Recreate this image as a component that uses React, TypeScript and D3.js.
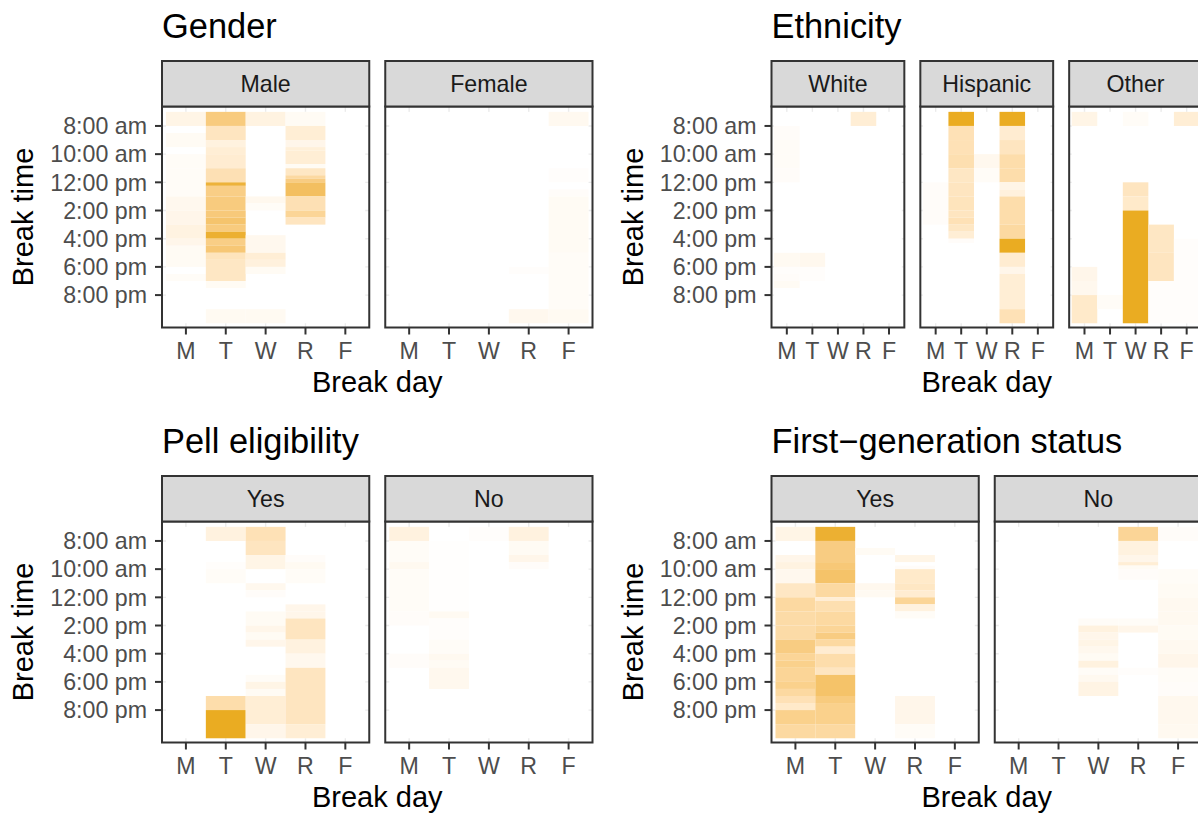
import React from 'react';
import * as d3 from 'd3';

type Cell = [string, number, number, number]; // day, start hour, end hour, share

const width = 1198;
const height = 813;
const font = 'Liberation Sans, Arial, Helvetica, sans-serif';
const dark = '#EAAC22';

const days = ['M', 'T', 'W', 'R', 'F'];
const timeTicks = [8, 10, 12, 14, 16, 18, 20];
const timeLabels = ['8:00 am', '10:00 am', '12:00 pm', '2:00 pm', '4:00 pm', '6:00 pm', '8:00 pm'];

// gender
const male: Cell[] = [
  ['M', 7, 8, .12], ['M', 8.5, 9.5, .05], ['M', 10, 11, .04], ['M', 11, 13, .04], ['M', 13, 14, .08],
  ['M', 14, 15, .1], ['M', 15, 16, .14], ['M', 16, 16.5, .1], ['M', 16.5, 18, .05], ['M', 18.5, 19, .04],
  ['T', 7, 8, .62], ['T', 8, 9, .3], ['T', 9, 9.5, .15], ['T', 9.5, 10, .2], ['T', 10, 11, .22],
  ['T', 11, 12, .36], ['T', 12, 12.25, .92], ['T', 12.25, 13, .58], ['T', 13, 14, .62], ['T', 14, 14.5, .64],
  ['T', 14.5, 15, .7], ['T', 15, 15.5, .62], ['T', 15.5, 16, .95], ['T', 16, 16.5, .58], ['T', 16.5, 17, .66],
  ['T', 17, 17.5, .32], ['T', 17.5, 19, .28], ['T', 19, 19.5, .05], ['T', 21, 22, .06],
  ['W', 7, 8, .14], ['W', 13, 13.5, .08], ['W', 13.5, 14, .04], ['W', 15.75, 17, .08], ['W', 17, 17.5, .2],
  ['W', 17.5, 18, .16], ['W', 18, 18.5, .05], ['W', 21, 22, .06],
  ['R', 7, 8, .05], ['R', 8, 9, .2], ['R', 9, 9.5, .1], ['R', 9.5, 9.75, .18], ['R', 9.75, 10.7, .2],
  ['R', 10.7, 11, .05], ['R', 11, 11.5, .28], ['R', 11.5, 11.75, .45], ['R', 11.75, 12, .6], ['R', 12, 13, .76],
  ['R', 13, 14, .36], ['R', 14, 14.5, .5], ['R', 14.5, 15, .3],
];
const female: Cell[] = [
  ['R', 18, 18.5, .02], ['R', 21, 22, .08],
  ['F', 7, 8, .07], ['F', 11, 12, .02], ['F', 12.5, 13, .03], ['F', 13, 17, .05], ['F', 17, 21, .04], ['F', 21, 22, .06],
];

// ethnicity
const white: Cell[] = [
  ['M', 8, 9, .03], ['M', 9, 10, .04], ['M', 10, 11, .04], ['M', 11, 12, .03], ['M', 17, 18, .06],
  ['M', 18, 18.5, .02], ['M', 18.5, 19, .03], ['M', 19, 19.5, .05],
  ['T', 17, 18, .08], ['T', 18, 19, .02],
  ['R', 7, 8, .2],
];
const hispanic: Cell[] = [
  ['M', 12, 15, .03],
  ['T', 7, 8, 1], ['T', 8, 9, .35], ['T', 9, 10, .35], ['T', 10, 11, .38], ['T', 11, 12, .28], ['T', 12, 13, .3],
  ['T', 13, 14, .32], ['T', 14, 14.5, .3], ['T', 14.5, 15, .35], ['T', 15, 15.5, .28], ['T', 15.5, 16, .2], ['T', 16, 16.3, .03],
  ['W', 10, 11, .08], ['W', 11, 12, .04],
  ['R', 7, 8, 1], ['R', 8, 9, .22], ['R', 9, 10, .3], ['R', 10, 11, .4], ['R', 11, 12, .4], ['R', 12, 12.5, .12],
  ['R', 12.5, 13, .16], ['R', 13, 15, .4], ['R', 15, 16, .45], ['R', 16, 17, 1], ['R', 17, 18, .22],
  ['R', 18, 18.5, .1], ['R', 18.5, 21, .2], ['R', 21, 22, .35],
];
const other: Cell[] = [
  ['M', 7, 8, .12], ['M', 18, 19, .1], ['M', 19, 20, .08], ['M', 20, 22, .25],
  ['T', 20, 21, .04],
  ['W', 7, 8, .04], ['W', 12, 13, .3], ['W', 13, 14, .25], ['W', 14, 22, 1],
  ['R', 15, 17, .28], ['R', 17, 19, .3], ['R', 19, 22, .02],
  ['F', 7, 8, .2], ['F', 16, 22, .02],
];

// pell eligibility
const pellYes: Cell[] = [
  ['T', 7, 8, .15], ['T', 9.5, 10, .02], ['T', 10, 11, .04], ['T', 19, 20, .4], ['T', 20, 22, 1],
  ['W', 7, 8, .35], ['W', 8, 9, .3], ['W', 9, 10, .12], ['W', 11, 11.5, .08], ['W', 11.5, 12, .03],
  ['W', 13, 14, .05], ['W', 14, 14.5, .1], ['W', 14.5, 15, .05], ['W', 15, 15.5, .1], ['W', 17.5, 18, .04],
  ['W', 18, 18.5, .12], ['W', 18.5, 19, .05], ['W', 19, 21, .2], ['W', 21, 22, .1],
  ['R', 9, 9.5, .03], ['R', 9.5, 10, .06], ['R', 10, 11, .04], ['R', 12.5, 13, .1], ['R', 13, 13.5, .1],
  ['R', 13.5, 15, .3], ['R', 15, 16, .15], ['R', 16, 17, .08], ['R', 17, 21, .3], ['R', 21, 22, .2],
];
const pellNo: Cell[] = [
  ['M', 7, 8, .15], ['M', 8, 9.5, .04], ['M', 9.5, 10, .07], ['M', 10, 13, .04], ['M', 13, 14, .03], ['M', 16, 17, .03],
  ['T', 8, 13, .01], ['T', 13, 13.5, .06], ['T', 13.5, 15, .02], ['T', 15, 16, .04], ['T', 16, 16.5, .07],
  ['T', 16.5, 17, .05], ['T', 17, 18.5, .08],
  ['W', 7, 8, .02],
  ['R', 7, 8, .15], ['R', 8, 9, .05], ['R', 9, 9.5, .1], ['R', 9.5, 10, .03],
];

// first-generation status
const firstGenYes: Cell[] = [
  ['M', 7, 8, .12], ['M', 9, 9.5, .1], ['M', 9.5, 10, .14], ['M', 10, 11, .08], ['M', 11, 12, .28], ['M', 12, 13, .45],
  ['M', 13, 14, .42], ['M', 14, 15, .42], ['M', 15, 16, .6], ['M', 16, 16.5, .5], ['M', 16.5, 17, .55],
  ['M', 17, 18, .5], ['M', 18, 18.5, .55], ['M', 18.5, 19, .45], ['M', 19, 19.5, .35], ['M', 19.5, 20, .25],
  ['M', 20, 21, .55], ['M', 21, 22, .45],
  ['T', 7, 8, .95], ['T', 8, 9.5, .6], ['T', 9.5, 10, .65], ['T', 10, 11, .72], ['T', 11, 12, .45],
  ['T', 12, 12.25, .2], ['T', 12.25, 13, .38], ['T', 13, 14, .45], ['T', 14, 14.5, .5], ['T', 14.5, 15, .6],
  ['T', 15, 15.5, .45], ['T', 15.5, 16, .22], ['T', 16, 17, .4], ['T', 17, 17.5, .3], ['T', 17.5, 19, .72],
  ['T', 19, 19.5, .62], ['T', 19.5, 21, .55], ['T', 21, 22, .45],
  ['W', 8.5, 9, .05], ['W', 11, 11.5, .08], ['W', 11.5, 12, .06],
  ['R', 9, 9.5, .12], ['R', 9.75, 10, .03], ['R', 10, 11, .25], ['R', 11, 11.5, .28], ['R', 11.5, 12, .22],
  ['R', 12, 12.5, .5], ['R', 12.5, 13, .15], ['R', 13, 13.5, .04], ['R', 19, 21, .1], ['R', 21, 22, .04],
];
const firstGenNo: Cell[] = [
  ['W', 13.5, 14, .04], ['W', 14, 14.5, .15], ['W', 14.5, 15, .1], ['W', 15, 15.5, .12], ['W', 15.5, 16, .08],
  ['W', 16, 16.5, .05], ['W', 16.5, 17, .15], ['W', 17, 17.5, .04], ['W', 17.5, 18, .07], ['W', 18, 19, .13],
  ['R', 7, 8, .5], ['R', 8, 9, .15], ['R', 9, 9.5, .1], ['R', 9.5, 9.75, .2], ['R', 9.75, 10, .05],
  ['R', 10, 10.75, .03], ['R', 13.5, 14, .04], ['R', 14, 14.5, .1], ['R', 17, 17.5, .02],
  ['F', 7, 8, .03], ['F', 10, 11, .04], ['F', 11, 12, .05], ['F', 12, 13, .07], ['F', 13, 14, .07],
  ['F', 14, 15, .05], ['F', 15, 16, .07], ['F', 16, 17, .1], ['F', 17, 18, .04], ['F', 18, 19, .03],
  ['F', 19, 21, .08], ['F', 21, 22, .07],
];

const plots = [
  { title: 'Gender', facets: ['Male', 'Female'], data: [male, female], col: 0, row: 0 },
  { title: 'Ethnicity', facets: ['White', 'Hispanic', 'Other'], data: [white, hispanic, other], col: 1, row: 0 },
  { title: 'Pell eligibility', facets: ['Yes', 'No'], data: [pellYes, pellNo], col: 0, row: 1 },
  { title: 'First\u2212generation status', facets: ['Yes', 'No'], data: [firstGenYes, firstGenNo], col: 1, row: 1 },
];

// layout
const colX = [[162, 592.5], [771.5, 1202]];
const rowDy = 415;
const panelGap = 16;
const stripTop = 61;
const panelTop = 106.5;
const panelBottom = 327.5;
const textSize = 23.2;

const fill = d3.scaleLinear<string>().domain([0, 1]).range(['#ffffff', dark]).interpolate(d3.interpolateLab);
const yScale = d3.scaleLinear().domain([6.62, 22.3]).range([panelTop, panelBottom]);

function Facet({ label, cells, x0, x1, first }: { label: string; cells: Cell[]; x0: number; x1: number; first: boolean }) {
  const xLin = d3.scaleLinear().domain([0.4, 5.6]).range([x0, x1]);
  const xPos = (d: string) => xLin(days.indexOf(d) + 1);
  const unit = xLin(1) - xLin(0);
  return (
    <g>
      {/* grid, mostly hidden under the tile background */}
      {days.map(d => (
        <line key={d} x1={xPos(d)} x2={xPos(d)} y1={panelTop} y2={panelBottom} stroke="#EBEBEB" strokeWidth={1.4} />
      ))}
      {timeTicks.map(t => (
        <line key={t} x1={x0} x2={x1} y1={yScale(t)} y2={yScale(t)} stroke="#EBEBEB" strokeWidth={1.4} />
      ))}
      <rect x={xLin(0.5)} y={yScale(7)} width={xLin(5.5) - xLin(0.5)} height={yScale(22) - yScale(7)} fill="#fff" />
      {cells.map((c, i) => (
        <rect key={i} x={xPos(c[0]) - unit / 2} y={yScale(c[1])} width={unit} height={yScale(c[2]) - yScale(c[1])} fill={fill(c[3])} />
      ))}
      <rect x={x0} y={panelTop} width={x1 - x0} height={panelBottom - panelTop} fill="none" stroke="#333333" strokeWidth={2} />
      <rect x={x0} y={stripTop} width={x1 - x0} height={panelTop - stripTop} fill="#D9D9D9" stroke="#333333" strokeWidth={2} />
      <text x={(x0 + x1) / 2} y={(stripTop + panelTop) / 2} dy="0.36em" textAnchor="middle" fontSize={textSize} fill="#1A1A1A">{label}</text>
      {days.map(d => (
        <g key={d}>
          <line x1={xPos(d)} x2={xPos(d)} y1={panelBottom} y2={panelBottom + 7} stroke="#333333" strokeWidth={2} />
          <text x={xPos(d)} y={panelBottom + 31} textAnchor="middle" fontSize={textSize} fill="#4D4D4D">{d}</text>
        </g>
      ))}
      {first && timeTicks.map((t, i) => (
        <g key={t}>
          <line x1={x0 - 7} x2={x0} y1={yScale(t)} y2={yScale(t)} stroke="#333333" strokeWidth={2} />
          <text x={x0 - 15} y={yScale(t)} dy="0.36em" textAnchor="end" fontSize={textSize} fill="#4D4D4D">{timeLabels[i]}</text>
        </g>
      ))}
    </g>
  );
}

export default function App() {
  return (
    <svg width={width} height={height} style={{ position: 'absolute', left: 0, top: 0, background: '#fff' }} fontFamily={font}>
      {plots.map(p => {
        const [a, b] = colX[p.col];
        const n = p.facets.length;
        const w = (b - a - panelGap * (n - 1)) / n;
        return (
          <g key={p.title} transform={`translate(0, ${p.row * rowDy})`}>
            <text x={a} y={37.7} fontSize={34.4} fill="#000">{p.title}</text>
            {p.facets.map((f, i) => (
              <Facet key={f} label={f} cells={p.data[i]} x0={a + i * (w + panelGap)} x1={a + i * (w + panelGap) + w} first={i === 0} />
            ))}
            <text x={(a + b) / 2} y={391.7} textAnchor="middle" fontSize={29} fill="#000">Break day</text>
            <text transform={`translate(${a - 129}, ${(panelTop + panelBottom) / 2}) rotate(-90)`} textAnchor="middle" fontSize={29} fill="#000">Break time</text>
          </g>
        );
      })}
    </svg>
  );
}
